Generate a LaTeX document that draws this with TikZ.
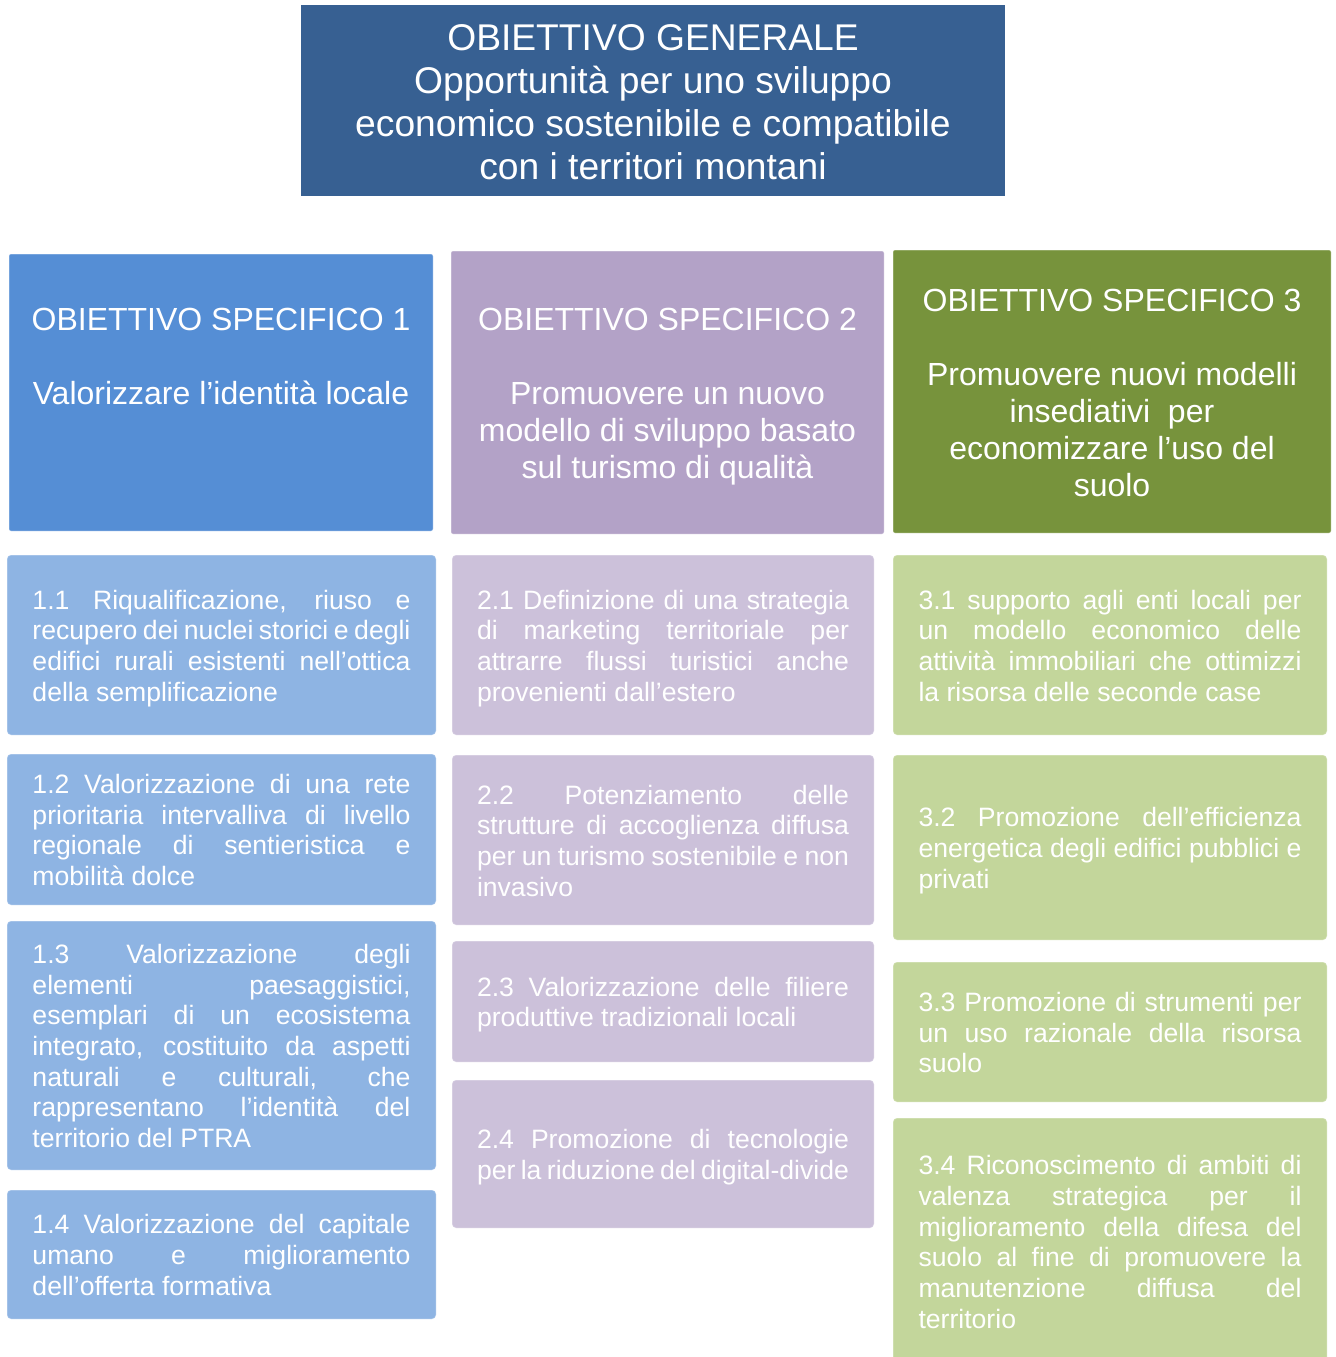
\documentclass[tikz,border=0pt]{standalone}
\usepackage{fontspec}
\setmainfont{Liberation Sans}
\usetikzlibrary{positioning}

\definecolor{genblue}{RGB}{55,96,146}
\definecolor{spec1}{RGB}{85,142,213}
\definecolor{spec2}{RGB}{179,162,199}
\definecolor{spec3}{RGB}{119,147,60}
\definecolor{item1}{RGB}{142,180,227}
\definecolor{item2}{RGB}{204,193,218}
\definecolor{item3}{RGB}{195,214,155}

\newcommand{\genfont}{\fontsize{18.6}{21.5}\selectfont}
\newcommand{\specfont}{\fontsize{16}{18.5}\selectfont}
\newcommand{\itemfont}{\fontsize{13.3}{15.35}\selectfont\parindent=0pt\tolerance=9999\hyphenpenalty=10000}
% struts: ascent on the first line, descent on the last one
\newcommand{\topstrut}{\rule{0pt}{0.968em}}
\newcommand{\botstrut}{\rule[-0.212em]{0pt}{0.212em}}

\tikzstyle{struts}=[execute at begin node=\topstrut, execute at end node=\botstrut]
\tikzstyle{genbox}=[struts, fill=genblue, text=white, align=flush center, inner sep=0pt, text width=330pt, font=\genfont]
\tikzstyle{specbox}=[struts, text=white, align=flush center, inner sep=0pt, text width=205pt, rounded corners=1pt, draw=white, draw opacity=0.3, line width=0.5pt, font=\specfont]
\tikzstyle{itembox}=[struts, text=white, align=justify, inner sep=0pt, rounded corners=2pt, draw=white, draw opacity=0.3, line width=0.5pt, font=\itemfont]
\tikzstyle{col1}=[itembox, fill=item1, minimum width=214.5pt, text width=189pt]
\tikzstyle{col2}=[itembox, fill=item2, minimum width=211pt, text width=186pt]
\tikzstyle{col3}=[itembox, fill=item3, minimum width=217pt, text width=191.5pt]

\begin{document}
\begin{tikzpicture}[x=0.5pt, y=-0.5pt]
    \useasboundingbox (0,0) rectangle (1336,1357);

    \node[genbox, minimum width=352pt, minimum height=95.5pt] (gen) at (653,100.5) {OBIETTIVO GENERALE\\ Opportunità per uno sviluppo\\ economico sostenibile e compatibile\\ con i territori montani};

    % Obiettivi specifici
    \node[specbox, fill=spec1, minimum width=212pt, minimum height=138.5pt] (os1) at (221,392.5) {OBIETTIVO SPECIFICO 1\\ \mbox{}\\ Valorizzare l’identità locale\\ \mbox{}\\ \mbox{}};
    \node[specbox, fill=spec2, minimum width=216.5pt, minimum height=141.5pt] (os2) at (667.5,392.5) {OBIETTIVO SPECIFICO 2\\ \mbox{}\\ Promuovere un nuovo\\ modello di sviluppo basato\\ sul turismo di qualità};
    \node[specbox, fill=spec3, minimum width=219pt, minimum height=141.5pt] (os3) at (1112,391.5) {OBIETTIVO SPECIFICO 3\\ \mbox{}\\ Promuovere nuovi modelli\\ insediativi~ per\\ economizzare l’uso del\\ suolo};

    % Azioni, colonna 1
    \node[col1, minimum height=90pt] (a11) at (221.5,645) {1.1 Riqualificazione, riuso e\linebreak recupero dei nuclei storici e degli\linebreak edifici rurali esistenti nell’ottica\linebreak della semplificazione};
    \node[col1, minimum height=75.5pt] (a12) at (221.5,829.5) {1.2 Valorizzazione di una rete\linebreak prioritaria intervalliva di livello\linebreak regionale di sentieristica e\linebreak mobilità dolce};
    \node[col1, minimum height=124.5pt] (a13) at (221.5,1045.5) {1.3 Valorizzazione degli\linebreak elementi paesaggistici,\linebreak esemplari di un ecosistema\linebreak integrato, costituito da aspetti\linebreak naturali e culturali, che\linebreak rappresentano l’identità del\linebreak territorio del PTRA};
    \node[col1, minimum height=64.5pt] (a14) at (221.5,1254.5) {1.4 Valorizzazione del capitale\linebreak umano e miglioramento\linebreak dell’offerta formativa};

    % Azioni, colonna 2
    \node[col2, minimum height=90pt] (a21) at (663,645) {2.1 Definizione di una strategia\linebreak di marketing territoriale per\linebreak attrarre flussi turistici anche\linebreak provenienti dall’estero};
    \node[col2, minimum height=85pt] (a22) at (663,840) {2.2 Potenziamento delle\linebreak strutture di accoglienza diffusa\linebreak per un turismo sostenibile e non\linebreak invasivo};
    \node[col2, minimum height=60.5pt] (a23) at (663,1001.5) {2.3 Valorizzazione delle filiere\linebreak produttive tradizionali locali};
    \node[col2, minimum height=74pt] (a24) at (663,1154) {2.4 Promozione di tecnologie\linebreak per la riduzione del digital-divide};

    % Azioni, colonna 3
    \node[col3, minimum height=90pt] (a31) at (1110,645) {3.1 supporto agli enti locali per\linebreak un modello economico delle\linebreak attività immobiliari che ottimizzi\linebreak la risorsa delle seconde case};
    \node[col3, minimum height=92.5pt] (a32) at (1110,847.5) {3.2 Promozione dell’efficienza\linebreak energetica degli edifici pubblici e\linebreak privati};
    \node[col3, minimum height=70pt] (a33) at (1110,1032) {3.3 Promozione di strumenti per\linebreak un uso razionale della risorsa\linebreak suolo};
    \node[col3, minimum height=123.5pt] (a34) at (1110,1241.5) {3.4 Riconoscimento di ambiti di\linebreak valenza strategica per il\linebreak miglioramento della difesa del\linebreak suolo al fine di promuovere la\linebreak manutenzione diffusa del\linebreak territorio};

\end{tikzpicture}
\end{document}
